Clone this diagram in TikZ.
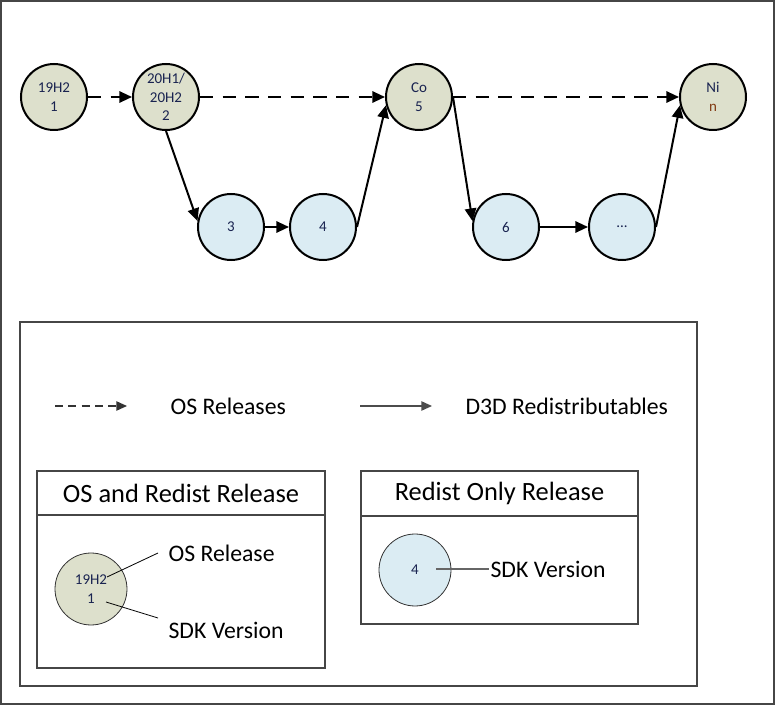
\documentclass[tikz,border=0pt]{standalone}
\usepackage{fontspec}
\setmainfont{Carlito}
\usetikzlibrary{arrows.meta}
\definecolor{osfill}{RGB}{221,224,204}
\definecolor{sdkfill}{RGB}{219,236,243}
\definecolor{numtxt}{RGB}{25,35,80}
\definecolor{ntxt}{RGB}{130,60,20}
\definecolor{frame}{RGB}{70,70,70}
\tikzset{
  rel/.style={circle, draw=black, line width=1.5pt, minimum size=49.5pt, inner sep=0pt,
    align=center, text=numtxt, font=\fontsize{11.25}{14}\selectfont},
  osnode/.style={rel, fill=osfill},
  sdknode/.style={rel, fill=sdkfill},
  legcirc/.style={circle, draw=black!80, line width=0.6pt, minimum size=54pt, inner sep=0pt,
    align=center, text=numtxt, font=\fontsize{11.25}{14}\selectfont},
  tip/.style={-{Triangle[length=9.5pt,width=8.5pt]}},
  osarrow/.style={tip, line width=1.5pt, dash pattern=on 10pt off 7pt},
  sdkarrow/.style={tip, line width=1.5pt},
  legtxt/.style={font=\fontsize{17.8}{20}\selectfont, inner sep=1pt},
  titletxt/.style={font=\fontsize{19.8}{22}\selectfont, inner sep=1pt},
  boxline/.style={draw=frame, line width=0.8pt},
}
\begin{document}
\begin{tikzpicture}[x=0.75pt,y=-0.75pt]
\useasboundingbox (0,0) rectangle (776,706);
\draw[boxline] (1,1) rectangle (774,704);

% main chain
\node[osnode] (r1) at (54,97) {19H2\\1};
\node[osnode] (r2) at (166,97) {20H1/\\20H2\\2};
\node[osnode] (r5) at (419,97) {Co\\5};
\node[osnode] (rn) at (713,97) {Ni\\\textcolor{ntxt}{n}};
\node[sdknode] (r3) at (231,227) {3};
\node[sdknode] (r4) at (323,227) {4};
\node[sdknode] (r6) at (506,227) {6};
\node[sdknode] (r7) at (622,227) {...};

\draw[osarrow] (r1) -- (r2);
\draw[osarrow] (r2) -- (r5);
\draw[osarrow] (r5) -- (rn);
\draw[sdkarrow] (r2.south) -- (r3.170);
\draw[sdkarrow] (r3) -- (r4);
\draw[sdkarrow] (r4.east) -- (r5.194);
\draw[sdkarrow] (r5.east) -- (r6.170);
\draw[sdkarrow] (r6) -- (r7);
\draw[sdkarrow] (r7.east) -- (rn.194);

% legend
\draw[boxline] (20,322) rectangle (697,686);
\coordinate (da) at (55,406);
\coordinate (db) at (127,406);
\coordinate (sa) at (360,406);
\coordinate (sb) at (432,406);
\draw[-{Triangle[length=8pt,width=7pt]}, line width=1.1pt, draw=black!80, dash pattern=on 6pt off 4pt] (da) -- (db);
\draw[-{Triangle[length=8pt,width=7pt]}, line width=1.1pt, draw=black!70] (sa) -- (sb);
\node[legtxt, anchor=west] (lt1) at (169,406) {OS Releases};
\node[legtxt, anchor=west] (lt2) at (464,406) {D3D Redistributables};

% box 1
\draw[boxline] (37,471) rectangle (325,668);
\draw[boxline] (37,515) -- (325,515);
\node[titletxt] (b1t) at (181,493) {OS and Redist Release};
\node[legcirc, fill=osfill] (lc1) at (91,589) {19H2\\1};
\coordinate (p1) at (107,577);
\coordinate (p2) at (106,602);
\node[legtxt, anchor=west] (osr) at (167,553) {OS Release};
\node[legtxt, anchor=west] (sdk1) at (167,630) {SDK Version};
\draw[line width=0.6pt] (p1) -- (158,553) coordinate (q1);
\draw[line width=0.6pt] (p2) -- (158,618) coordinate (q2);

% box 2
\draw[boxline] (361,471) rectangle (638,624);
\draw[boxline] (361,516) -- (638,516);
\node[titletxt] (b2t) at (499.5,493) {Redist Only Release};
\node[legcirc, fill=sdkfill] (lc2) at (415,570) {4};
\coordinate (p3) at (436,569);
\node[legtxt, anchor=west] (sdk2) at (489,569) {SDK Version};
\draw[line width=1pt, draw=black!60] (p3) -- (sdk2.west);
\end{tikzpicture}
\end{document}
